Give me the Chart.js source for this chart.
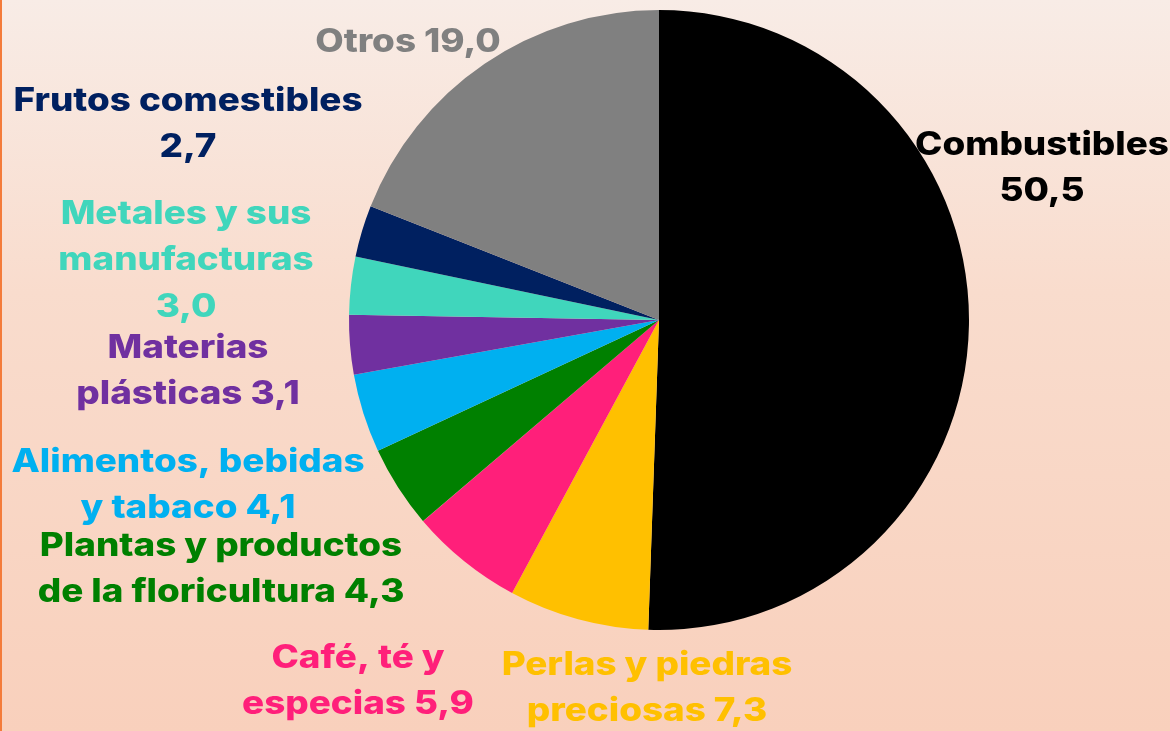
<!DOCTYPE html>
<html><head><meta charset="utf-8">
<script src="https://cdn.jsdelivr.net/npm/chart.js@4.4.1/dist/chart.umd.min.js"></script>
<style>
html,body{margin:0;padding:0;}
#wrap{width:1168px;height:731px;border-left:2px solid #F47B3A;background:linear-gradient(to bottom,#F8ECE6 0%,#F9DCCD 40%,#F9D0BC 100%);position:relative;}
canvas{display:block;}
</style></head><body>
<div id="wrap"><canvas id="c" width="1168" height="731"></canvas></div>
<script>
const categories = ["Combustibles","Perlas y piedras preciosas","Café, té y especias","Plantas y productos de la floricultura","Alimentos, bebidas y tabaco","Materias plásticas","Metales y sus manufacturas","Frutos comestibles","Otros"];
const values = [50.5,7.3,5.9,4.3,4.1,3.1,3.0,2.7,19.0];
const colors = ["#000000","#FFC000","#FF1F7A","#008000","#00B0F0","#7030A0","#40D6BC","#002060","#808080"];
const labelLines = [
  ["Combustibles","50,5"],
  ["Perlas y piedras","preciosas 7,3"],
  ["Café, té y","especias 5,9"],
  ["Plantas y productos","de la floricultura 4,3"],
  ["Alimentos, bebidas","y tabaco 4,1"],
  ["Materias","plásticas 3,1"],
  ["Metales y sus","manufacturas","3,0"],
  ["Frutos comestibles","2,7"],
  ["Otros 19,0"]
];
const labelPos = [[1040,145],[645,665],[356,658],[219,546],[186,462],[186,348],[184,214],[186,101],[406,42]];
const labelColors = ["#000000","#FFC000","#FF1F7A","#008000","#00B0F0","#7030A0","#40D6BC","#002060","#808080"];

const labelPlugin = {
  id:'labels',
  afterDraw(chart){
    const ctx = chart.ctx;
    ctx.save();
    ctx.font = "800 32px Inter, 'Noto Sans', sans-serif";
    ctx.textAlign = "center";
    ctx.textBaseline = "middle";
    const sx = 1.15;
    labelLines.forEach((lines,i)=>{
      ctx.fillStyle = labelColors[i];
      lines.forEach((t,j)=>{
        ctx.save();
        ctx.translate(labelPos[i][0], labelPos[i][1] + j*46.5);
        ctx.scale(sx,1);
        ctx.fillText(t, 0, 0);
        ctx.restore();
      });
    });
    ctx.restore();
  }
};

new Chart(document.getElementById('c'),{
  type:'pie',
  data:{labels:categories,datasets:[{data:values,backgroundColor:colors,borderWidth:0}]},
  options:{
    responsive:false,animation:false,
    layout:{padding:{left:346,right:200,top:10,bottom:101}},
    plugins:{legend:{display:false},tooltip:{enabled:false}}
  },
  plugins:[labelPlugin]
});
</script>
</body></html>
